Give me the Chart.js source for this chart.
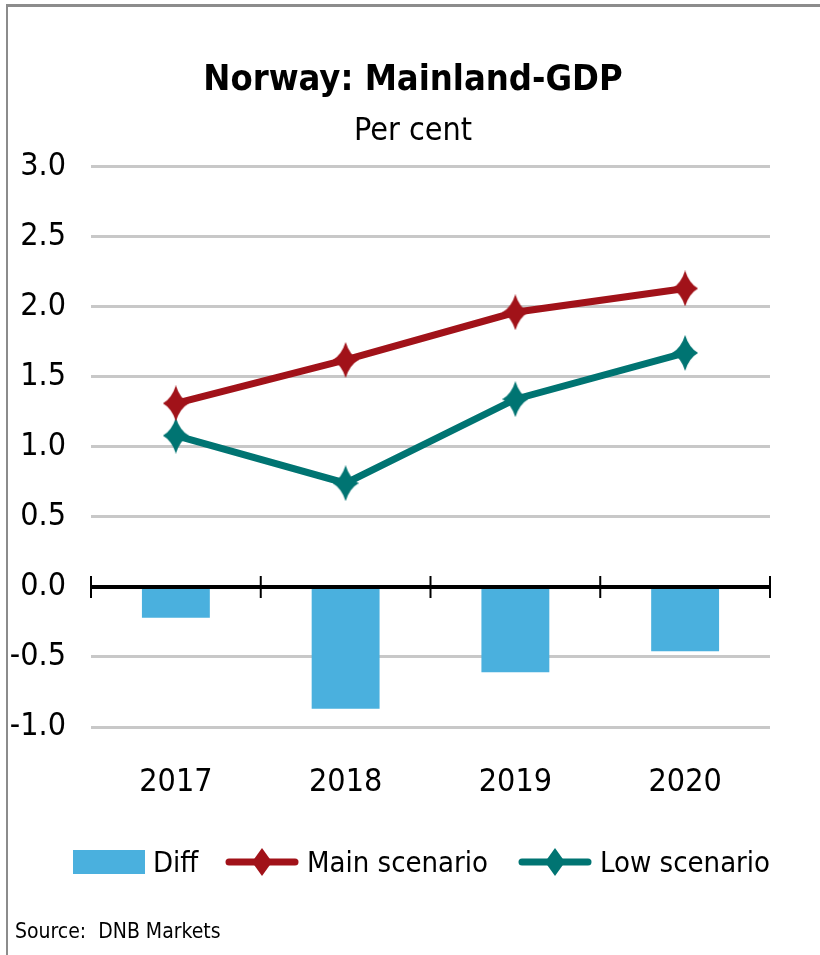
<!DOCTYPE html>
<html lang="en">
<head>
    <meta charset="UTF-8">
    <title>Norway: Mainland-GDP</title>
    <script src="https://cdn.jsdelivr.net/npm/chart.js"></script>
    <style>
        body { margin: 0; background: #fff; }
        .wrap {
            position: relative; width: 820px; height: 955px; overflow: hidden;
            font-family: "DejaVu Sans Condensed", "Liberation Sans Narrow", sans-serif;
            font-stretch: condensed;
        }
        .frame {
            position: absolute; left: 6px; top: 4px; right: -10px; bottom: -10px;
            border-left: 2px solid #8c8c8c; border-top: 3px solid #8c8c8c;
        }
        #gdpChart { position: absolute; left: 0; top: 0; }
        .legend { position: absolute; top: 838px; left: 0; height: 48px; font-size: 29px; color: #000; }
        .legend .item { position: absolute; top: 0; display: flex; align-items: center; height: 48px; white-space: nowrap; }
        .legend .box { width: 72px; height: 24px; background: #4AB0DE; margin-right: 8px; }
        .legend svg { margin-right: 8px; }
        .source { position: absolute; left: 15px; top: 919px; font-size: 21px; color: #000; white-space: pre; }
    </style>
</head>
<body>
<div class="wrap">
    <div class="frame"></div>
    <canvas id="gdpChart" width="820" height="955"></canvas>
    <div class="legend">
        <div class="item" style="left:73px"><div class="box"></div>Diff</div>
        <div class="item" style="left:225px">
            <svg width="74" height="32"><line x1="4" y1="16" x2="70" y2="16" stroke="#A11219" stroke-width="7" stroke-linecap="round"/><polygon points="37,2 47,16 37,30 27,16" fill="#A11219"/></svg>Main scenario</div>
        <div class="item" style="left:518px">
            <svg width="74" height="32"><line x1="4" y1="16" x2="70" y2="16" stroke="#007472" stroke-width="7" stroke-linecap="round"/><polygon points="37,2 47,16 37,30 27,16" fill="#007472"/></svg>Low scenario</div>
    </div>
    <div class="source">Source:  DNB Markets</div>
</div>

<script>
    const years = ['2017', '2018', '2019', '2020'];
    const diff = [-0.22, -0.87, -0.61, -0.46];
    const mainScenario = [1.31, 1.62, 1.96, 2.13];
    const lowScenario = [1.08, 0.74, 1.34, 1.67];
    const yMin = -1.0, yMax = 3.0, yStep = 0.5;

    const FONT = '"DejaVu Sans Condensed", "Liberation Sans Narrow", sans-serif';

    // diamond marker, a bit taller than wide like the excel one
    function diamond(color) {
        const c = document.createElement('canvas');
        c.width = 26; c.height = 36;
        const g = c.getContext('2d');
        g.fillStyle = color;
        g.beginPath();
        g.moveTo(13, 0);
        g.quadraticCurveTo(17, 13, 26, 18);
        g.quadraticCurveTo(17, 23, 13, 36);
        g.quadraticCurveTo(9, 23, 0, 18);
        g.quadraticCurveTo(9, 13, 13, 0);
        g.closePath();
        g.fill();
        return c;
    }

    // black zero axis with tick marks between categories
    const zeroAxis = {
        id: 'zeroAxis',
        afterDatasetsDraw(chart) {
            const { ctx, chartArea, scales: { x, y } } = chart;
            const y0 = y.getPixelForValue(0);
            ctx.save();
            ctx.strokeStyle = '#000';
            ctx.lineWidth = 4;
            ctx.beginPath();
            ctx.moveTo(chartArea.left, y0);
            ctx.lineTo(chartArea.right, y0);
            ctx.stroke();
            const step = x.getPixelForValue(1) - x.getPixelForValue(0);
            ctx.lineWidth = 2;
            ctx.beginPath();
            for (let i = 0; i <= years.length; i++) {
                const px = x.getPixelForValue(0) - step / 2 + i * step;
                ctx.moveTo(px, y0 - 11);
                ctx.lineTo(px, y0 + 11);
            }
            ctx.stroke();
            ctx.restore();
        }
    };

    const ctx = document.getElementById('gdpChart').getContext('2d');
    const gdpChart = new Chart(ctx, {
        data: {
            labels: years,
            datasets: [
                {
                    type: 'line',
                    label: 'Main scenario',
                    data: mainScenario,
                    borderColor: '#A11219',
                    backgroundColor: '#A11219',
                    borderWidth: 7,
                    pointStyle: diamond('#A11219'),
                    tension: 0,
                    order: 1
                },
                {
                    type: 'line',
                    label: 'Low scenario',
                    data: lowScenario,
                    borderColor: '#007472',
                    backgroundColor: '#007472',
                    borderWidth: 7,
                    pointStyle: diamond('#007472'),
                    tension: 0,
                    order: 1
                },
                {
                    type: 'bar',
                    label: 'Diff',
                    data: diff,
                    backgroundColor: '#4AB0DE',
                    barPercentage: 0.8,
                    categoryPercentage: 0.5,
                    order: 2
                }
            ]
        },
        options: {
            responsive: false,
            animation: false,
            layout: { padding: { left: 6, right: 0, top: 0, bottom: 148 } },
            plugins: {
                legend: { display: false },
                tooltip: { enabled: false },
                title: {
                    display: true,
                    text: 'Norway: Mainland-GDP',
                    color: '#000',
                    font: { family: FONT, size: 36, weight: 'bold', lineHeight: 1.2 },
                    padding: { top: 59, bottom: 0 }
                },
                subtitle: {
                    display: true,
                    text: 'Per cent',
                    color: '#000',
                    font: { family: FONT, size: 32, lineHeight: 1.2 },
                    padding: { top: 10, bottom: 16 }
                }
            },
            scales: {
                x: {
                    grid: { display: false, drawTicks: false },
                    border: { display: false },
                    ticks: { color: '#000', font: { family: FONT, size: 32 }, padding: 36 },
                    afterFit(scale) { scale.height = 80; }
                },
                y: {
                    min: yMin,
                    max: yMax,
                    border: { display: false },
                    grid: {
                        drawTicks: false,
                        color: c => c.tick && c.tick.value === 0 ? 'rgba(0,0,0,0)' : '#c8c8c8',
                        lineWidth: 3
                    },
                    ticks: {
                        stepSize: yStep,
                        color: '#000',
                        font: { family: FONT, size: 32 },
                        padding: 25,
                        callback: v => v.toFixed(1)
                    },
                    afterFit(scale) { scale.width = 85; }
                },
                // empty right-hand axis, only keeps the plot clear of the right edge
                yRight: {
                    position: 'right',
                    min: yMin,
                    max: yMax,
                    grid: { display: false, drawTicks: false },
                    border: { display: false },
                    ticks: { display: false },
                    afterFit(scale) { scale.width = 50; }
                }
            }
        },
        plugins: [zeroAxis]
    });
</script>
</body>
</html>
